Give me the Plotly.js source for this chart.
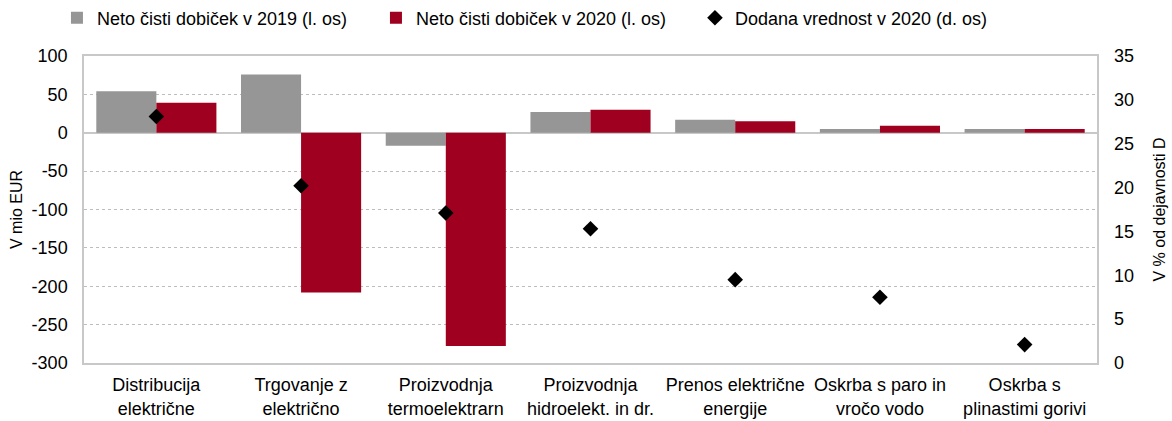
<!DOCTYPE html>
<html>
<head>
<meta charset="utf-8">
<script src="https://cdn.plot.ly/plotly-3.0.1.min.js"></script>
<style>html,body{margin:0;padding:0;background:#fff;}#chart{width:1172px;height:421px;}</style>
</head>
<body>
<div id="chart"></div>
<script>
const categories = [
  'Distribucija<br>električne',
  'Trgovanje z<br>električno',
  'Proizvodnja<br>termoelektrarn',
  'Proizvodnja<br>hidroelekt. in dr.',
  'Prenos električne<br>energije',
  'Oskrba s paro in<br>vročo vodo',
  'Oskrba s<br>plinastimi gorivi'
];
const profit2019 = [54, 76, -17, 27, 17, 5, 5];
const profit2020 = [39, -208, -278, 30, 15, 9, 5];
const addedValue2020 = [28.1, 20.2, 17.1, 15.3, 9.5, 7.5, 2.1];

const seriesNames = [
  'Neto čisti dobiček v 2019 (l. os)',
  'Neto čisti dobiček v 2020 (l. os)',
  'Dodana vrednost v 2020 (d. os)'
];
const leftTicks = [100, 50, 0, -50, -100, -150, -200, -250, -300];
const leftTickText = ['100', '50', '0', '-50', '-100', '-150', '-200', '-250', '-300'];
const rightTicks = [0, 5, 10, 15, 20, 25, 30, 35];

const FONT = 'Liberation Sans, Arial, sans-serif';

const data = [
  {type: 'bar', x: categories, y: profit2019, name: seriesNames[0],
   marker: {color: '#969696'}},
  {type: 'bar', x: categories, y: profit2020, name: seriesNames[1],
   marker: {color: '#9f001f'}},
  {type: 'scatter', mode: 'markers', x: categories, y: addedValue2020, name: seriesNames[2],
   yaxis: 'y2', marker: {symbol: 'diamond', color: '#000', size: 12}}
];

const layout = {
  width: 1172, height: 421,
  margin: {l: 84, r: 75, t: 56, b: 58, pad: 0},
  paper_bgcolor: '#fff', plot_bgcolor: '#fff',
  font: {family: FONT, size: 18, color: '#000'},
  barmode: 'group', bargap: 0.17, bargroupgap: 0,
  showlegend: true,
  legend: {orientation: 'h', x: 0.0486, xanchor: 'left', xref: 'container',
           y: 0.957, yanchor: 'middle', yref: 'container',
           entrywidth: 274, entrywidthmode: 'pixels',
           font: {family: FONT, size: 18, color: '#000'}, traceorder: 'normal'},
  xaxis: {type: 'category', showline: true, mirror: true, linecolor: '#c8c8c8', linewidth: 1.5,
          ticks: '', ticklabelstandoff: 5, showgrid: false, tickfont: {family: FONT, size: 18}, automargin: false},
  yaxis: {range: [-300, 100], tickvals: leftTicks, ticktext: leftTickText,
          showgrid: true, gridcolor: '#bdbdbd', griddash: 'dot', gridwidth: 1,
          zeroline: true, zerolinecolor: '#c8c8c8', zerolinewidth: 2,
          showline: true, mirror: true, linecolor: '#c8c8c8', linewidth: 1.5,
          ticks: '', ticklabelstandoff: 11, automargin: false,
          title: {text: 'V mio EUR', font: {family: FONT, size: 16}, standoff: 5}},
  yaxis2: {range: [0, 35], tickvals: rightTicks, overlaying: 'y', side: 'right',
           showgrid: false, zeroline: false, showline: false, ticks: '',
           ticklabelstandoff: 16, automargin: false,
           title: {text: 'V % od dejavnosti D', font: {family: FONT, size: 16}, standoff: 20}}
};

Plotly.newPlot('chart', data, layout, {displayModeBar: false, responsive: false});
</script>
</body>
</html>
